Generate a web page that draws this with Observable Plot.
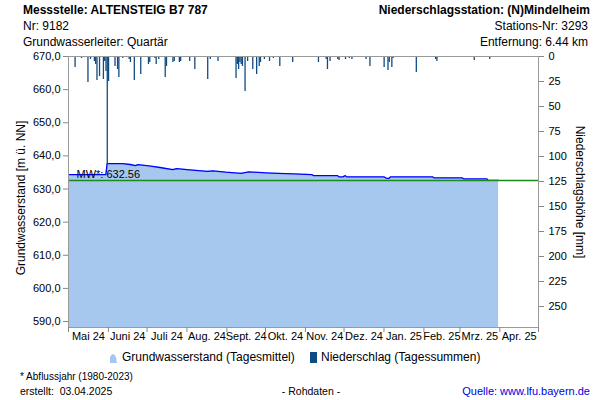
<!DOCTYPE html>
<html><head><meta charset="utf-8">
<script src="https://cdn.jsdelivr.net/npm/d3@7"></script>
<script src="https://cdn.jsdelivr.net/npm/@observablehq/plot@0.6"></script>
<style>
body{margin:0;background:#fff;font-family:"Liberation Sans",Arial,sans-serif}
#chart{position:relative;width:600px;height:400px}
</style>
</head><body><div id="chart"></div>
<script>
// Grundwasserstand (Tagesmittel), m ü. NN
const gwDates = ["2024-05-01","2024-05-30","2024-05-31","2024-06-12","2024-06-18","2024-06-22","2024-06-24","2024-07-04","2024-07-11","2024-07-21","2024-07-24","2024-08-03","2024-08-17","2024-08-21","2024-08-31","2024-09-12","2024-09-18","2024-10-05","2024-10-23","2024-11-06","2024-11-07","2024-11-26","2024-11-27","2024-11-30","2024-12-02","2024-12-03","2025-01-01","2025-01-03","2025-01-05","2025-01-06","2025-02-08","2025-02-09","2025-03-03","2025-03-04","2025-03-22","2025-03-23","2025-03-31"];
const gwLevels = [634.35,634.35,637.67,637.67,637.4,637.07,637.37,636.9,636.5,635.86,636.16,635.8,635.35,635.5,635.1,634.74,635.17,634.8,634.56,634.35,634.05,634.05,633.66,633.66,634.05,633.66,633.66,633.24,633.24,633.66,633.66,633.35,633.35,633.05,633.05,632.6,632.6];
// Niederschlag (Tagessummen), mm
const rainDates = ["2024-05-03","2024-05-06","2024-05-11","2024-05-16","2024-05-18","2024-05-21","2024-05-22","2024-05-23","2024-05-25","2024-05-28","2024-05-29","2024-05-30","2024-05-31","2024-06-01","2024-06-03","2024-06-06","2024-06-08","2024-06-09","2024-06-12","2024-06-17","2024-06-18","2024-06-21","2024-06-26","2024-07-02","2024-07-03","2024-07-07","2024-07-08","2024-07-10","2024-07-11","2024-07-15","2024-07-16","2024-07-19","2024-07-21","2024-07-22","2024-07-26","2024-07-27","2024-08-03","2024-08-07","2024-08-13","2024-08-17","2024-08-19","2024-08-25","2024-08-29","2024-09-08","2024-09-09","2024-09-10","2024-09-11","2024-09-12","2024-09-13","2024-09-15","2024-09-17","2024-09-21","2024-09-24","2024-09-26","2024-09-27","2024-09-30","2024-10-04","2024-10-07","2024-10-12","2024-10-13","2024-10-18","2024-10-22","2024-11-02","2024-11-11","2024-11-12","2024-11-17","2024-11-18","2024-11-20","2024-11-25","2024-11-26","2024-11-27","2024-12-02","2024-12-05","2024-12-07","2024-12-08","2024-12-18","2024-12-21","2025-01-01","2025-01-04","2025-01-05","2025-01-07","2025-01-08","2025-01-14","2025-01-22","2025-01-26","2025-01-28","2025-02-10","2025-02-11","2025-02-25","2025-02-26","2025-03-12","2025-03-14","2025-03-24","2025-03-26","2025-03-28"];
const rainMm = [1,11,2,26,3,5,8,24,20,23,5,15,108,25,1,10,13,21,2,3,6,24,18,8,6,2,8,3,1,21,10,1,6,5,6,5,5,13,1,23,3,5,1,22,8,13,6,8,10,35,5,13,18,10,6,3,5,2,10,1,1,6,1,6,1,3,13,5,1,3,4,3,2,3,1,3,10,11,14,6,11,2,1,1,16,1,3,5,1,1,4,1,3,1,1];
const monthLabels = ["Mai 24","Juni 24","Juli 24","Aug. 24","Sept. 24","Okt. 24","Nov. 24","Dez. 24","Jan. 25","Feb. 25","Mrz. 25","Apr. 25"];
const leftTicks = [590,600,610,620,630,640,650,660,670];
const rightTicks = [0,25,50,75,100,125,150,175,200,225,250];
const meanLevel = 632.56;
const meanLabel = "MW*: 632.56";

const yMin = 588.2, yMax = 670, mmMax = 271;
const toLevel = mm => yMax - mm * (yMax - yMin) / mmMax;
const toMm = lv => (yMax - lv) * mmMax / (yMax - yMin);

const gw = gwDates.map((d, i) => ({date: new Date(d), level: gwLevels[i]}));
const rain = rainDates.map((d, i) => ({date: new Date(d), mm: rainMm[i]}));
const x0 = new Date("2024-05-01"), x1 = new Date("2025-05-01");
const monthStarts = d3.utcMonth.range(x0, d3.utcDay.offset(x1, 1));
const monthMids = monthStarts.slice(0, -1).map((m, i) => new Date((+m + +monthStarts[i + 1]) / 2));

const svg = Plot.plot({
  width: 600, height: 400,
  marginLeft: 68, marginRight: 62, marginTop: 56, marginBottom: 73,
  style: {fontFamily: "Liberation Sans, Arial, sans-serif", fontSize: "11px", background: "#fff"},
  x: {type: "utc", domain: [x0, x1]},
  y: {domain: [yMin, yMax]},
  marks: [
    Plot.areaY(gw, {x: "date", y1: yMin, y2: "level", fill: "#a6c8ef"}),
    Plot.lineY(gw, {x: "date", y: "level", stroke: "#0000ff", strokeWidth: 1.3}),
    Plot.rect(rain, {x1: "date", x2: d => d3.utcDay.offset(d.date, 1), y1: yMax, y2: d => toLevel(d.mm), fill: "#0e4a84"}),
    Plot.ruleY([meanLevel], {stroke: "#1a8a1a", strokeWidth: 1.6}),
    Plot.text([meanLabel], {text: d => d, y: meanLevel, frameAnchor: "left", textAnchor: "start", dx: 8, dy: -6, fontSize: 11, fill: "#000"}),
    Plot.frame({stroke: "#9a9a9a"}),
    Plot.axisY(leftTicks, {anchor: "left", tickSize: 5, tickPadding: 3, stroke: "#888", fill: "#000", tickFormat: d => d.toFixed(1).replace(".", ","), label: null}),
    Plot.axisY(rightTicks.map(toLevel), {anchor: "right", tickSize: 5, tickPadding: 5, stroke: "#888", fill: "#000", tickFormat: d => String(Math.round(toMm(d))), label: null}),
    Plot.axisX(monthStarts, {anchor: "bottom", tickSize: 5, stroke: "#888", tickFormat: () => "", label: null}),
    Plot.text(monthMids, {x: d => d, text: (d, i) => monthLabels[i], frameAnchor: "bottom", dy: 12, fontSize: 11, fill: "#000"})
  ]
});

const s = d3.select(svg);
function addText(x, y, str, opts = {}) {
  const t = s.append("text").attr("x", x).attr("y", y).attr("dominant-baseline", "middle")
    .attr("font-family", "Liberation Sans, Arial, sans-serif")
    .attr("font-size", opts.size || 12).attr("fill", opts.fill || "#000")
    .attr("text-anchor", opts.anchor || "start").text(str);
  if (opts.bold) t.attr("font-weight", "bold");
  if (opts.rotate) t.attr("transform", `rotate(${opts.rotate},${x},${y})`);
  return t;
}
// Header
addText(23, 11, "Messstelle: ALTENSTEIG B7 787", {bold: true});
addText(23, 27, "Nr: 9182");
addText(23, 43, "Grundwasserleiter: Quartär");
addText(590, 11, "Niederschlagsstation: (N)Mindelheim", {bold: true, anchor: "end"});
addText(588, 27, "Stations-Nr: 3293", {anchor: "end"});
addText(588, 43, "Entfernung: 6.44 km", {anchor: "end"});
// Axis titles
addText(22, 198, "Grundwasserstand [m ü. NN]", {anchor: "middle", rotate: -90});
addText(579, 192, "Niederschlagshöhe [mm]", {anchor: "middle", rotate: 90});
// Legend
s.append("path").attr("d", "M110,363 L110,357 Q113,351 116,357 L117,363 Z").attr("fill", "#a6c8ef");
addText(122, 358, "Grundwasserstand (Tagesmittel)");
s.append("rect").attr("x", 310).attr("y", 352).attr("width", 7).attr("height", 11).attr("fill", "#0e4a84");
addText(321, 358, "Niederschlag (Tagessummen)");
// Footer
addText(20, 377, "* Abflussjahr (1980-2023)", {size: 10});
addText(20, 392, "erstellt:  03.04.2025", {size: 10.5});
addText(311, 392, "- Rohdaten -", {size: 10.5, anchor: "middle"});
addText(590, 392, "Quelle: www.lfu.bayern.de", {size: 11, anchor: "end", fill: "#0000dd"});

document.getElementById("chart").appendChild(svg);
</script>
</body></html>
